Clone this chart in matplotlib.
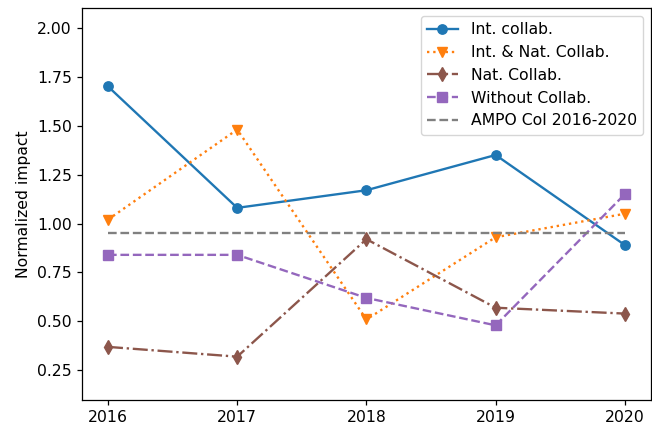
import matplotlib
matplotlib.use("Agg")
import matplotlib.pyplot as plt

years = [2016, 2017, 2018, 2019, 2020]
int_collab = [1.70, 1.08, 1.17, 1.35, 0.89]
int_nat_collab = [1.02, 1.48, 0.51, 0.93, 1.05]
nat_collab = [0.37, 0.32, 0.92, 0.57, 0.54]
without_collab = [0.84, 0.84, 0.62, 0.48, 1.15]
ampo = 0.95

s = 1.125
plt.rcParams.update({
    'font.size': 10 * s,
    'lines.linewidth': 1.5 * s,
    'lines.markersize': 6 * s,
    'axes.linewidth': 0.8 * s,
    'xtick.major.size': 3.5 * s,
    'ytick.major.size': 3.5 * s,
    'xtick.major.width': 0.8 * s,
    'ytick.major.width': 0.8 * s,
    'legend.fontsize': 10 * s,
})

fig = plt.figure(figsize=(6.52, 4.28), dpi=100)
ax = fig.add_axes([0.126, 0.066, 0.872, 0.915])

ax.plot(years, int_collab, '-o', color='#1f77b4', label='Int. collab.')
ax.plot(years, int_nat_collab, ':v', color='#ff7f0e', label='Int. & Nat. Collab.')
ax.plot(years, nat_collab, '-.d', color='#8c564b', label='Nat. Collab.')
ax.plot(years, without_collab, '--s', color='#9467bd', label='Without Collab.')
ax.plot(years, [ampo] * len(years), '--', color='gray', label='AMPO Col 2016-2020')

ax.set_xticks(years)
ax.set_ylim(0.1, 2.1)
ax.set_yticks([0.25, 0.50, 0.75, 1.00, 1.25, 1.50, 1.75, 2.00])
ax.set_ylabel('Normalized impact')
ax.legend(loc='upper right')

fig.savefig('out.png', dpi=100)
